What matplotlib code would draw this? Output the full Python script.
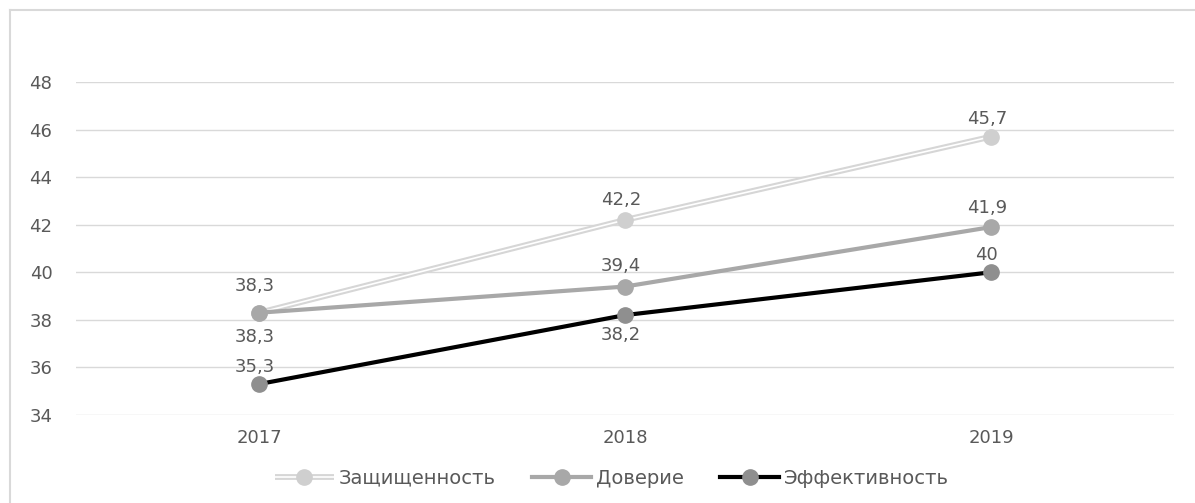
import matplotlib
matplotlib.use("Agg")
import matplotlib.pyplot as plt
from matplotlib.lines import Line2D

years = ["2017", "2018", "2019"]
zash = [38.3, 42.2, 45.7]
dover = [38.3, 39.4, 41.9]
effect = [35.3, 38.2, 40.0]
zash_labels = ["38,3", "42,2", "45,7"]
dover_labels = ["38,3", "39,4", "41,9"]
effect_labels = ["35,3", "38,2", "40"]
series_names = ["Защищенность", "Доверие", "Эффективность"]
yticks = [34, 36, 38, 40, 42, 44, 46, 48]

plt.rcParams['font.family'] = ['DejaVu Sans']
txt = '#595959'

fig = plt.figure(figsize=(11.95, 5.03), dpi=100)
ax = fig.add_axes([76/1195, 1-415/503, (1174-76)/1195, (415-82)/503])

x = list(range(len(years)))

# Защищенность: double line (light outline, white core)
ax.plot(x, zash, color='#d6d6d6', lw=4.2, solid_capstyle='butt', zorder=3)
ax.plot(x, zash, color='white', lw=1.2, solid_capstyle='butt', zorder=3.1)
ax.plot(x, zash, ls='none', marker='o', ms=11, color='#cfcfcf', zorder=3.2)

ax.plot(x, dover, color='#a8a8a8', lw=3.0, marker='o', ms=11,
        mfc='#a8a8a8', mec='#a8a8a8', zorder=4)
ax.plot(x, effect, color='black', lw=3.0, marker='o', ms=11,
        mfc='#8f8f8f', mec='#8f8f8f', zorder=5)

def label(xs, ys, labs, offs):
    for xi, yi, s, o in zip(xs, ys, labs, offs):
        ax.annotate(s, (xi, yi), xytext=(-3, o), textcoords='offset points',
                    ha='center', va='center', fontsize=13, color=txt, zorder=6)

label(x, zash, zash_labels, [19, 14.5, 12.5])
label(x, dover, dover_labels, [-17.5, 15, 14])
label(x, effect, effect_labels, [12.5, -14.5, 12.5])

ax.set_xlim(-0.5, 2.5)
ax.set_ylim(34, 48)
ax.set_yticks(yticks)
ax.set_yticklabels([str(v) for v in yticks])
ax.set_xticks(x)
ax.set_xticklabels(years)
ax.tick_params(length=0, labelsize=13, labelcolor=txt)
ax.tick_params(axis='y', pad=17)
ax.tick_params(axis='x', pad=10)
ax.grid(axis='y', color='#d9d9d9', lw=1)
ax.set_axisbelow(True)
for sp in ax.spines.values():
    sp.set_visible(False)

# legend
h1 = (Line2D([], [], color='#d6d6d6', lw=4.2, solid_capstyle='butt'),
      Line2D([], [], color='white', lw=1.2, solid_capstyle='butt'),
      Line2D([], [], ls='none', marker='o', ms=11, color='#cfcfcf'))
h2 = Line2D([], [], color='#a8a8a8', lw=3.0, marker='o', ms=11)
h3 = Line2D([], [], color='black', lw=3.0, marker='o', ms=11,
            mfc='#8f8f8f', mec='#8f8f8f')
leg = fig.legend([h1, h2, h3], series_names, loc='center',
                 bbox_to_anchor=(612/1195, 1-478/503), ncol=3, frameon=False,
                 fontsize=14, handlelength=3.0, handletextpad=0.25,
                 columnspacing=1.9, borderpad=0, borderaxespad=0)
for t in leg.get_texts():
    t.set_color(txt)

# partial border (top and left)
fig.add_artist(Line2D([9.5/1195, 9.5/1195], [0, 1-10/503], transform=fig.transFigure,
                      color='#d9d9d9', lw=1.5))
fig.add_artist(Line2D([9.5/1195, 1], [1-10/503, 1-10/503], transform=fig.transFigure,
                      color='#d9d9d9', lw=1.5))

fig.savefig('out.png', dpi=100)
